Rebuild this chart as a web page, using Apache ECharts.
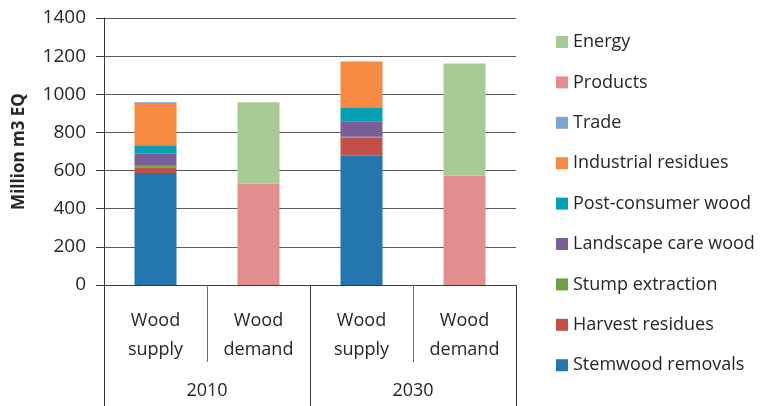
<!DOCTYPE html>
<html>
<head>
<meta charset="utf-8">
<script src="https://cdn.jsdelivr.net/npm/echarts@6/dist/echarts.min.js"></script>
<style>
  html, body { margin: 0; padding: 0; background: #fff; }
  #chart { width: 776px; height: 406px; }
</style>
</head>
<body>
<div id="chart"></div>
<script>
// 数据
let categories = ["Wood\nsupply", "Wood\ndemand", "Wood\nsupply", "Wood\ndemand"];
let years = ["2010", "2030"];
let yTicks = [0, 1400, 200]; // min, max, interval

let stemwood = [587, 0, 678, 0];
let harvestResidues = [31, 0, 94, 0];
let stumpExtraction = [11, 0, 5, 0];
let landscapeCare = [59, 0, 82, 0];
let postConsumer = [45, 0, 69, 0];
let industrialResidues = [216, 0, 244, 0];
let trade = [9, 0, 0, 0];
let products = [0, 531, 0, 573];
let energy = [0, 427, 0, 589];

let seriesDefs = [
  ["Stemwood removals", stemwood, "#2376ae"],
  ["Harvest residues", harvestResidues, "#c24f4a"],
  ["Stump extraction", stumpExtraction, "#71a043"],
  ["Landscape care wood", landscapeCare, "#795f97"],
  ["Post-consumer wood", postConsumer, "#06a0b5"],
  ["Industrial residues", industrialResidues, "#f68a42"],
  ["Trade", trade, "#7ca4cf"],
  ["Products", products, "#e18e8f"],
  ["Energy", energy, "#a8cb95"]
];

let font = "'Open Sans', Lato, sans-serif";
let textColor = "#262626";

let chart = echarts.init(document.getElementById("chart"));

let option = {
  animation: false,
  textStyle: { fontFamily: font },
  grid: { left: 104, right: 260, top: 18, bottom: 121 },
  legend: {
    orient: "vertical",
    left: 551,
    top: 28,
    itemWidth: 12,
    itemHeight: 12,
    itemGap: 22.4,
    icon: "rect",
    textStyle: { color: textColor, fontSize: 18, lineHeight: 18, fontFamily: font },
    data: seriesDefs.map(d => d[0]).reverse()
  },
  xAxis: [{
      type: "category",
      data: categories,
      axisLine: { show: true, lineStyle: { color: "#3a3a3a", width: 1 } },
      axisTick: { show: true, interval: 0, length: 77, lineStyle: { color: "#6e6e6e" } },
      axisLabel: {
        color: textColor,
        fontSize: 18,
        lineHeight: 29,
        margin: 21,
        interval: 0
      }
    },
    {
      type: "category",
      position: "bottom",
      data: years,
      axisLine: { show: false },
      axisTick: { show: true, interval: 0, length: 121, lineStyle: { color: "#3a3a3a" } },
      axisLabel: { color: textColor, fontSize: 18, margin: 97 }
    }
  ],
  yAxis: {
    type: "value",
    min: yTicks[0],
    max: yTicks[1],
    interval: yTicks[2],
    name: "Million m3 EQ",
    nameLocation: "middle",
    nameGap: 76,
    nameTextStyle: { color: textColor, fontSize: 17, fontWeight: "bold" },
    axisLine: { show: true, lineStyle: { color: "#3a3a3a" } },
    axisTick: { show: true, length: 8, lineStyle: { color: "#3a3a3a" } },
    axisLabel: { color: textColor, fontSize: 19, margin: 18, formatter: v => String(v) },
    splitLine: { lineStyle: { color: "#5a5a5a", width: 1 } }
  },
  series: seriesDefs.map(d => ({
    name: d[0],
    type: "bar",
    stack: "total",
    xAxisIndex: 0,
    barWidth: 42,
    itemStyle: { color: d[2] },
    emphasis: { disabled: true },
    data: d[1]
  }))
};

chart.setOption(option, true);
</script>
</body>
</html>
